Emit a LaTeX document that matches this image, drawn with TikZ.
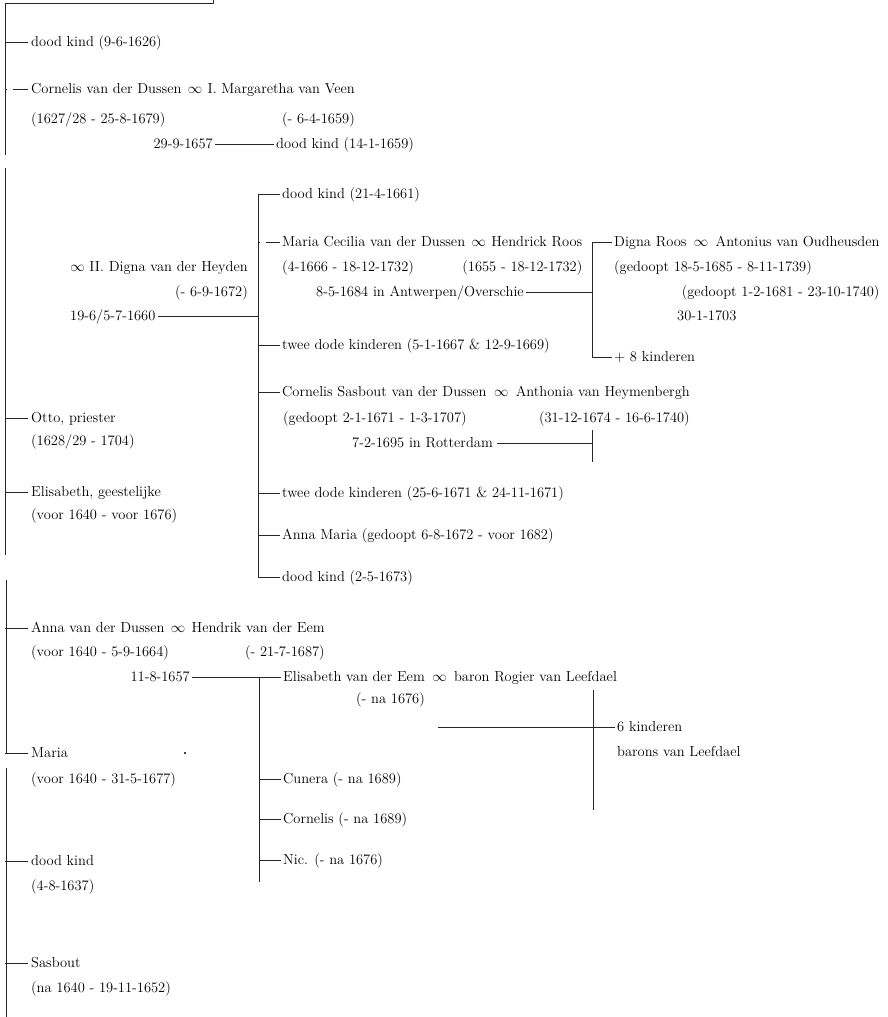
\documentclass[tikz,border=0pt]{standalone}
\usepackage{fontspec}
\usepackage{tikz}
\usetikzlibrary{positioning}

\tikzset{
  pers/.style={anchor=west, inner sep=0pt, text height=10pt, text depth=2pt,
    font=\fontsize{14.5}{17}\selectfont},
  branch/.style={line width=0.6pt, black!85},
  scantick/.style={branch, dash pattern=on 1.5pt off 6pt on 30pt},
}

\begin{document}
\begin{tikzpicture}[x=1pt, y=-1pt, line join=round]
  \useasboundingbox (0,0) rectangle (887,1017);

  % stam (left trunk), with the gaps of the scan
  \coordinate (stam0) at (5,3);
  \coordinate (stam1) at (5,155);
  \coordinate (stam2) at (5,168);
  \coordinate (stam3) at (5,555);
  \coordinate (stam4) at (6,580);
  \coordinate (stam5) at (6,753);
  \coordinate (stam6) at (6,768);
  \coordinate (stam7) at (6,1017);
  \coordinate (top) at (213,0);
  \draw[branch] (top) -- (top |- stam0) -- (stam0) -- (stam1);
  \draw[branch] (stam2) -- (stam3);
  \draw[branch] (stam4) -- (stam5);
  \draw[branch] (stam6) -- (stam7);

  % first children
  \node[pers] (d1) at (31,42) {dood kind (9-6-1626)};
  \node[pers] (cornelis) at (31,89) {Cornelis van der Dussen};
  \node[pers, right=6pt of cornelis] (h1) {$\infty$};
  \node[pers, right=5pt of h1] (margaretha) {I. Margaretha van Veen};
  \node[pers] (cornelis-d) at (31,119) {(1627/28 - 25-8-1679)};
  \node[pers, below=30pt of margaretha.east, anchor=east] (margaretha-d) {(- 6-4-1659)};
  \node[pers, anchor=east] (w1) at (213,144) {29-9-1657};
  \node[pers] (d2) at (276,144) {dood kind (14-1-1659)};
  \draw[branch, shorten <=2pt, shorten >=2pt] (w1) -- (d2);

  % second marriage
  \node[pers, anchor=east] (digna) at (248,267) {$\infty$ II. Digna van der Heyden};
  \node[pers, anchor=east] (digna-d) at (248,292) {(- 6-9-1672)};
  \node[pers] (w2) at (70,316) {19-6/5-7-1660};
  \coordinate (k2) at (258,0);
  \node[pers] (d3) at (282,194) {dood kind (21-4-1661)};
  \node[pers] (mc) at (282,242) {Maria Cecilia van der Dussen};
  \node[pers, right=6pt of mc] (h3) {$\infty$};
  \node[pers, right=5pt of h3] (roos) {Hendrick Roos};
  \node[pers] (mc-d) at (282,267) {(4-1666 - 18-12-1732)};
  \node[pers, below=25pt of roos.east, anchor=east] (roos-d) {(1655 - 18-12-1732)};
  \node[pers] (w3) at (316,292) {8-5-1684 in Antwerpen/Overschie};
  \node[pers] (t1) at (282,345) {twee dode kinderen (5-1-1667 \& 12-9-1669)};
  \node[pers] (cs) at (282,392) {Cornelis Sasbout van der Dussen};
  \node[pers, right=7pt of cs] (h4) {$\infty$};
  \node[pers, right=7pt of h4] (anthonia) {Anthonia van Heymenbergh};
  \node[pers] (cs-d) at (283,418) {(gedoopt 2-1-1671 - 1-3-1707)};
  \node[pers, below=26pt of anthonia.east, anchor=east] (anthonia-d) {(31-12-1674 - 16-6-1740)};
  \node[pers] (w4) at (352,443) {7-2-1695 in Rotterdam};
  \node[pers] (t2) at (282,493) {twee dode kinderen (25-6-1671 \& 24-11-1671)};
  \node[pers] (am) at (282,535) {Anna Maria (gedoopt 6-8-1672 - voor 1682)};
  \node[pers] (d4) at (282,577) {dood kind (2-5-1673)};
  \draw[branch, shorten <=2pt] (w2) -- (w2 -| k2);
  \draw[branch, shorten <=2pt, shorten >=2pt]
    (d3.west) -- (d3.west -| k2) -- (d4.west -| k2) -- (d4.west);
  \foreach \k in {t1,cs,t2,am}
    \draw[branch] (\k.west -| k2) -- ([xshift=-2pt]\k.west);
  \draw[scantick] (mc.west -| k2) -- ([xshift=-2pt]mc.west);

  % Digna Roos
  \coordinate (r3) at (592,0);
  \node[pers] (dr) at (614,242) {Digna Roos};
  \node[pers, right=7pt of dr] (h5) {$\infty$};
  \node[pers, right=7pt of h5] (antonius) {Antonius van Oudheusden};
  \node[pers] (dr-d) at (614,267) {(gedoopt 18-5-1685 - 8-11-1739)};
  \node[pers, below=50pt of antonius.east, anchor=east] (antonius-d) {(gedoopt 1-2-1681 - 23-10-1740)};
  \node[pers] (w5) at (677,316) {30-1-1703};
  \node[pers] (k8) at (614,357) {+ 8 kinderen};
  \draw[branch, shorten <=2pt, shorten >=2pt]
    (dr.west) -- (dr.west -| r3) -- (k8.west -| r3) -- (k8.west);
  \draw[branch, shorten <=2pt] (w3) -- (w3 -| r3);

  % Rotterdam
  \coordinate (r4a) at (592,430);
  \coordinate (r4b) at (592,462);
  \draw[branch] (r4a) -- (r4b);
  \draw[branch, shorten <=4pt] (w4) -- (w4 -| r4a);

  % Otto, Elisabeth
  \node[pers] (otto) at (31,418) {Otto, priester};
  \node[pers] (otto-d) at (31,441) {(1628/29 - 1704)};
  \node[pers] (el) at (31,492) {Elisabeth, geestelijke};
  \node[pers] (el-d) at (31,515) {(voor 1640 - voor 1676)};

  % Anna
  \node[pers] (anna) at (31,628) {Anna van der Dussen};
  \node[pers, right=6pt of anna] (h6) {$\infty$};
  \node[pers, right=6pt of h6] (hendrik) {Hendrik van der Eem};
  \node[pers] (anna-d) at (31,652) {(voor 1640 - 5-9-1664)};
  \node[pers, below=24pt of hendrik.east, anchor=east] (hendrik-d) {(- 21-7-1687)};
  \node[pers, anchor=east] (w6) at (190,677) {11-8-1657};
  \coordinate (k6) at (259,0);
  \node[pers] (eve) at (283,677) {Elisabeth van der Eem};
  \node[pers, right=7pt of eve] (h7) {$\infty$};
  \node[pers, right=7pt of h7] (rogier) {baron Rogier van Leefdael};
  \node[pers, below=22pt of eve.east, anchor=east] (eve-d) {(- na 1676)};
  \node[pers] (cunera) at (283,779) {Cunera (- na 1689)};
  \node[pers] (corn2) at (283,819) {Cornelis (- na 1689)};
  \node[pers] (nic) at (283,860) {Nic. (- na 1676)};
  \coordinate (k6b) at (259,882);
  \draw[branch, shorten <=2pt, shorten >=2pt] (w6) -- (eve);
  \draw[branch] (eve.west -| k6) -- (k6b);
  \foreach \k in {cunera,corn2,nic}
    \draw[branch] (\k.west -| k6) -- ([xshift=-2pt]\k.west);

  % barons van Leefdael
  \node[pers] (k6k) at (617,727) {6 kinderen};
  \node[pers] (k6k-d) at (617,752) {barons van Leefdael};
  \coordinate (lv) at (438,727);
  \coordinate (r7a) at (593,690);
  \coordinate (r7b) at (593,810);
  \draw[branch, shorten >=2pt] (lv) -- (k6k);
  \draw[branch] (r7a) -- (r7b);

  % Maria, dood kind, Sasbout
  \node[pers] (maria) at (31,753) {Maria};
  \node[pers] (maria-d) at (31,779) {(voor 1640 - 31-5-1677)};
  \fill (185,753) circle (1.2pt);
  \node[pers] (d5) at (31,861) {dood kind};
  \node[pers] (d5-d) at (31,886) {(4-8-1637)};
  \node[pers] (sasbout) at (31,963) {Sasbout};
  \node[pers] (sasbout-d) at (31,988) {(na 1640 - 19-11-1652)};

  % ticks from the stam
  \foreach \k in {d1,otto,el,anna,maria,d5,sasbout}
    \draw[branch] (\k.west -| stam0) -- ([xshift=-3pt]\k.west);
  \draw[scantick] (cornelis.west -| stam0) -- ([xshift=-3pt]cornelis.west);
\end{tikzpicture}
\end{document}
